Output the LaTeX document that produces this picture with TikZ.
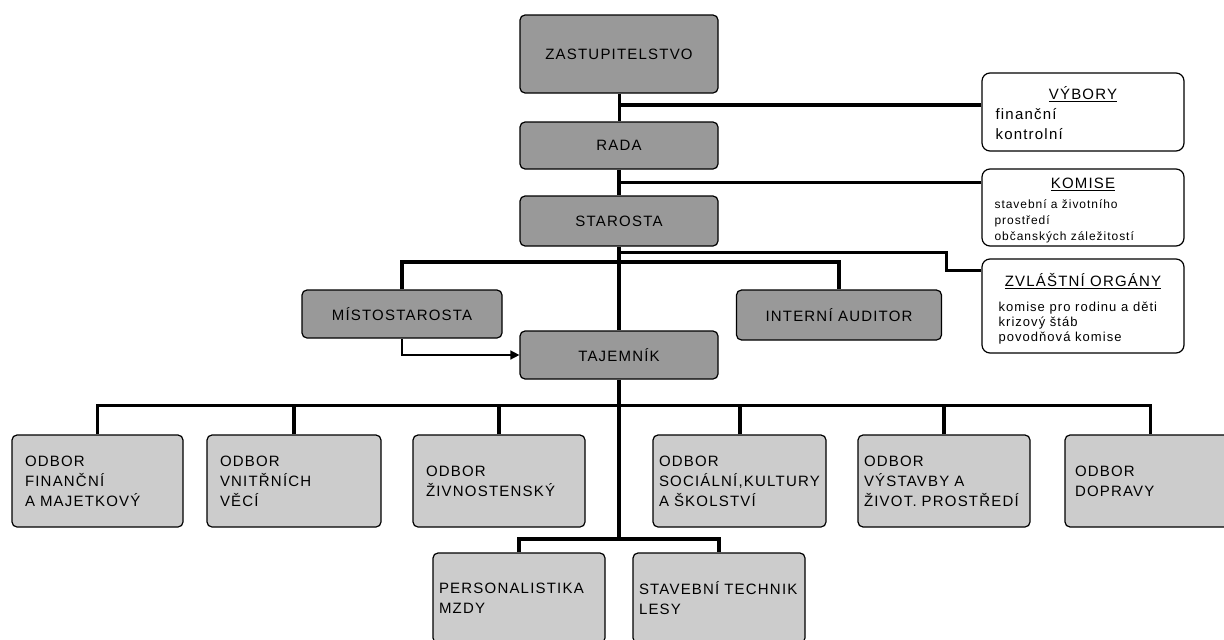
\documentclass[tikz,border=0pt]{standalone}
\usepackage{fontspec}
\setmainfont{Liberation Sans}[LetterSpace=8]
\usetikzlibrary{arrows.meta}
\hyphenpenalty=10000
\definecolor{sedatmava}{gray}{0.6}
\definecolor{sedasvetla}{gray}{0.8}
\tikzstyle{vedeni}=[draw,fill=sedatmava,rounded corners=5pt,line width=1.2pt,font=\fontsize{15}{20}\selectfont]
\tikzstyle{odbor}=[draw,fill=sedasvetla,rounded corners=5pt,line width=1.2pt,align=left,inner xsep=13pt,font=\fontsize{15}{20}\selectfont]
\tikzstyle{vybor}=[draw,fill=white,rounded corners=8pt,line width=1.2pt]
\tikzstyle{nadpis}=[inner sep=0pt,font=\fontsize{15}{18}\selectfont]
\tikzstyle{clenove}=[inner sep=0pt,align=left,anchor=north west]
\tikzstyle{spoj}=[line width=4pt]
\tikzstyle{spojtenky}=[line width=3pt]
\tikzstyle{sipka}=[line width=1.5pt,-{Triangle[length=9pt,width=9pt]}]

\begin{document}
\begin{tikzpicture}[x=1pt,y=-1pt]
\useasboundingbox (0,0) rectangle (1224,640);
% vedeni obce
\node[vedeni,minimum width=198pt,minimum height=78pt] at (619,54) (zast) {ZASTUPITELSTVO};
\node[vedeni,minimum width=198pt,minimum height=47pt] at (619,145.5) (rada) {RADA};
\node[vedeni,minimum width=198pt,minimum height=50pt] at (619,221) (starosta) {STAROSTA};
\node[vedeni,minimum width=200pt,minimum height=48pt] at (402,314) (mistostarosta) {MÍSTOSTAROSTA};
\node[vedeni,minimum width=205pt,minimum height=50pt] at (839,315) (auditor) {INTERNÍ AUDITOR};
\node[vedeni,minimum width=198pt,minimum height=48pt] at (619,355) (tajemnik) {TAJEMNÍK};
% vybory, komise, zvlastni organy
\node[vybor,minimum width=202pt,minimum height=78pt] at (1083,112) (vybory) {};
\node[nadpis] at ([yshift=-22pt]vybory.north) (vyboryN) {\underline{VÝBORY}};
\node[clenove,font=\fontsize{15}{20}\selectfont] at ([xshift=14pt,yshift=-36pt]vybory.north west) (vyboryT) {finanční\\kontrolní};
\node[vybor,minimum width=202pt,minimum height=77pt] at (1083,207.5) (komise) {};
\node[nadpis] at ([yshift=-16pt]komise.north) (komiseN) {\underline{KOMISE}};
\node[clenove,font=\fontsize{12}{16}\selectfont] at ([xshift=13pt,yshift=-31pt]komise.north west) (komiseT) {stavební a životního\\prostředí\\občanských záležitostí};
\node[vybor,minimum width=202pt,minimum height=94pt] at (1083,306) (zvlastni) {};
\node[nadpis] at ([yshift=-23pt]zvlastni.north) (zvlastniN) {\underline{ZVLÁŠTNÍ ORGÁNY}};
\node[clenove,font=\fontsize{13}{15}\selectfont] at ([xshift=17pt,yshift=-43pt]zvlastni.north west) (zvlastniT) {komise pro rodinu a děti\\krizový štáb\\povodňová komise};
% odbory
\node[odbor,minimum width=171pt,minimum height=92pt,text width=145pt] at (97.5,481) (financni) {ODBOR\\FINANČNÍ\\A~MAJETKOVÝ};
\node[odbor,minimum width=174pt,minimum height=92pt,text width=148pt] at (294,481) (vnitrni) {ODBOR\\VNITŘNÍCH\\VĚCÍ};
\node[odbor,minimum width=172pt,minimum height=92pt,text width=146pt] at (499,481) (zivnost) {ODBOR\\ŽIVNOSTENSKÝ};
\node[odbor,minimum width=173pt,minimum height=92pt,text width=161pt,inner xsep=6pt] at (739.5,481) (socialni) {ODBOR\\SOCIÁLNÍ,KULTURY\\A~ŠKOLSTVÍ};
\node[odbor,minimum width=172pt,minimum height=92pt,text width=160pt,inner xsep=6pt] at (944,481) (vystavba) {ODBOR\\VÝSTAVBY~A\\ŽIVOT.~PROSTŘEDÍ};
\node[odbor,minimum width=170pt,minimum height=92pt,text width=150pt,inner xsep=10pt] at (1150,481) (doprava) {ODBOR\\DOPRAVY};
\node[odbor,minimum width=172pt,minimum height=90pt,text width=160pt,inner xsep=6pt] at (519,598) (personal) {PERSONALISTIKA\\MZDY};
\node[odbor,minimum width=172pt,minimum height=90pt,text width=160pt,inner xsep=6pt] at (719,598) (stavebni) {STAVEBNÍ~TECHNIK\\LESY};
% spoje
\coordinate (lista) at (620,405);
\draw[spojtenky] (zast) -- (rada);
\draw[spoj] (rada) -- (starosta);
\draw[spoj] (starosta) -- (tajemnik);
\draw[spoj] ([yshift=-33pt]vybory.north west) -- ([yshift=-33pt]vybory.north west -| zast.south);
\draw[spojtenky] ([yshift=-14pt]komise.north west) -- ([yshift=-14pt]komise.north west -| rada.south);
\draw[spojtenky] ([yshift=-6pt]starosta.south) -- ++(327,0) |- ([yshift=-12pt]zvlastni.north west);
\draw[spoj] (mistostarosta.north) -- ++(0,-27) -| (auditor.north);
\draw[sipka] (mistostarosta.south) |- (tajemnik.west);
\draw[spoj] (tajemnik.south) -- ([yshift=13pt]tajemnik.south |- personal.north);
\draw[spojtenky] (financni.north) |- (lista) -| (doprava.north);
\foreach \o in {vnitrni,zivnost,socialni,vystavba}
  \draw[spoj] (\o.north) -- (\o.north |- lista);
\draw[spoj] (personal.north) -- ++(0,-13) -| (stavebni.north);
\end{tikzpicture}
\end{document}
